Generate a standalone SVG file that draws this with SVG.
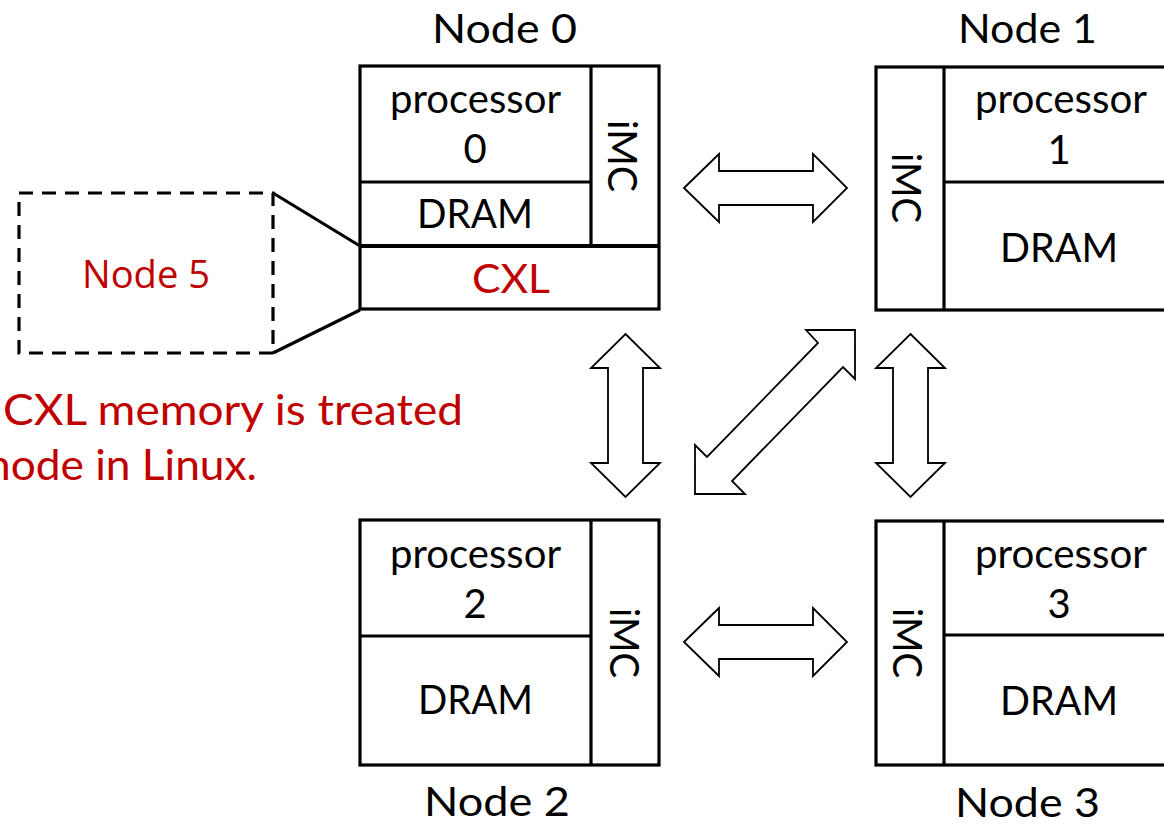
<svg xmlns="http://www.w3.org/2000/svg" width="1164" height="826" viewBox="0 0 1164 826">
<style>
  .box { fill: #ffffff; stroke: #000000; stroke-width: 3.2; }
  .ln { stroke: #000000; stroke-width: 3.2; fill: none; }
  .dash { fill: none; stroke: #000000; stroke-width: 3.2; stroke-dasharray: 14 9; }
  .arrow { fill: #ffffff; stroke: #000000; stroke-width: 1.8; stroke-linejoin: miter; }
  .t { font-family: "Lato", "Open Sans", sans-serif; font-size: 40px; fill: #000000; }
  .red { fill: #C00000; }
  .n5 { font-family: "Open Sans", "Noto Sans", sans-serif; font-size: 38px; fill: #C00000; }
  .mid { text-anchor: middle; }
</style>
<rect width="1164" height="826" fill="#ffffff"/>

<g id="node0">
  <rect class="box" x="360" y="66" width="299" height="243"/>
  <line class="ln" x1="591" y1="66" x2="591" y2="246"/>
  <line class="ln" x1="360" y1="182" x2="591" y2="182"/>
  <line class="ln" x1="360" y1="246" x2="659" y2="246" style="stroke-width:3.8"/>
  <text class="t" x="432" y="43" textLength="145" lengthAdjust="spacingAndGlyphs">Node 0</text>
  <text class="t" x="390" y="113" textLength="171" lengthAdjust="spacingAndGlyphs">processor</text>
  <text class="t mid" x="475" y="163">0</text>
  <text class="t" x="417" y="228" textLength="116" lengthAdjust="spacingAndGlyphs">DRAM</text>
  <text class="t red" x="472" y="293" textLength="78" lengthAdjust="spacingAndGlyphs">CXL</text>
  <text class="t" transform="translate(608,120) rotate(90)" x="0" y="0" textLength="72" lengthAdjust="spacingAndGlyphs">iMC</text>
</g>

<g id="node1">
  <rect class="box" x="876" y="67" width="300" height="243"/>
  <line class="ln" x1="944" y1="67" x2="944" y2="310"/>
  <line class="ln" x1="944" y1="182" x2="1176" y2="182"/>
  <text class="t" x="958" y="43" textLength="139" lengthAdjust="spacingAndGlyphs">Node 1</text>
  <text class="t" x="975" y="113" textLength="172" lengthAdjust="spacingAndGlyphs">processor</text>
  <text class="t mid" x="1059" y="164">1</text>
  <text class="t" x="1000" y="262" textLength="118" lengthAdjust="spacingAndGlyphs">DRAM</text>
  <text class="t" transform="translate(892,153) rotate(90)" x="0" y="0" textLength="70" lengthAdjust="spacingAndGlyphs">iMC</text>
</g>

<g id="node2">
  <rect class="box" x="360" y="520" width="299" height="245"/>
  <line class="ln" x1="591" y1="520" x2="591" y2="765"/>
  <line class="ln" x1="360" y1="636" x2="591" y2="636"/>
  <text class="t" x="424" y="816" textLength="146" lengthAdjust="spacingAndGlyphs">Node 2</text>
  <text class="t" x="390" y="568" textLength="171" lengthAdjust="spacingAndGlyphs">processor</text>
  <text class="t mid" x="475" y="618">2</text>
  <text class="t" x="418" y="714" textLength="115" lengthAdjust="spacingAndGlyphs">DRAM</text>
  <text class="t" transform="translate(610,608) rotate(90)" x="0" y="0" textLength="70" lengthAdjust="spacingAndGlyphs">iMC</text>
</g>

<g id="node3">
  <rect class="box" x="876" y="521" width="300" height="244"/>
  <line class="ln" x1="944" y1="521" x2="944" y2="765"/>
  <line class="ln" x1="944" y1="635" x2="1176" y2="635"/>
  <text class="t" x="955" y="817" textLength="145" lengthAdjust="spacingAndGlyphs">Node 3</text>
  <text class="t" x="975" y="568" textLength="172" lengthAdjust="spacingAndGlyphs">processor</text>
  <text class="t mid" x="1059" y="618">3</text>
  <text class="t" x="1000" y="715" textLength="118" lengthAdjust="spacingAndGlyphs">DRAM</text>
  <text class="t" transform="translate(893,608) rotate(90)" x="0" y="0" textLength="70" lengthAdjust="spacingAndGlyphs">iMC</text>
</g>

<g id="node5">
  <rect class="dash" x="19" y="193" width="254" height="160"/>
  <text class="n5" x="82" y="288" textLength="128" lengthAdjust="spacingAndGlyphs">Node 5</text>
</g>

<g id="connectors">
  <line class="ln" x1="273" y1="193" x2="360" y2="246"/>
  <line class="ln" x1="273" y1="353" x2="360" y2="310"/>
  <polygon class="arrow" points="684,188 719,154 719,171 813,171 813,154 847,188 813,222 813,205 719,205 719,222"/>
  <polygon class="arrow" points="684,642 719,608 719,625 813,625 813,608 847,642 813,676 813,659 719,659 719,676"/>
  <polygon class="arrow" points="625.5,334 660,368 643,368 643,463 660,463 625.5,497 591,463 608,463 608,368 591,368"/>
  <polygon class="arrow" points="910.5,334 945,368 928,368 928,463 945,463 910.5,497 876,463 893,463 893,368 876,368"/>
  <polygon class="arrow" points="855,330 855,379 843,367 732,481 745,494 695,494 695,445 707,457 818,343 806,330"/>
</g>

<g id="note">
  <text class="t red" x="3" y="425" style="font-size:42px" textLength="460" lengthAdjust="spacingAndGlyphs">CXL memory is treated</text>
  <text class="t red" x="-14" y="480" style="font-size:42px" textLength="271" lengthAdjust="spacingAndGlyphs">node in Linux.</text>
</g>
</svg>
